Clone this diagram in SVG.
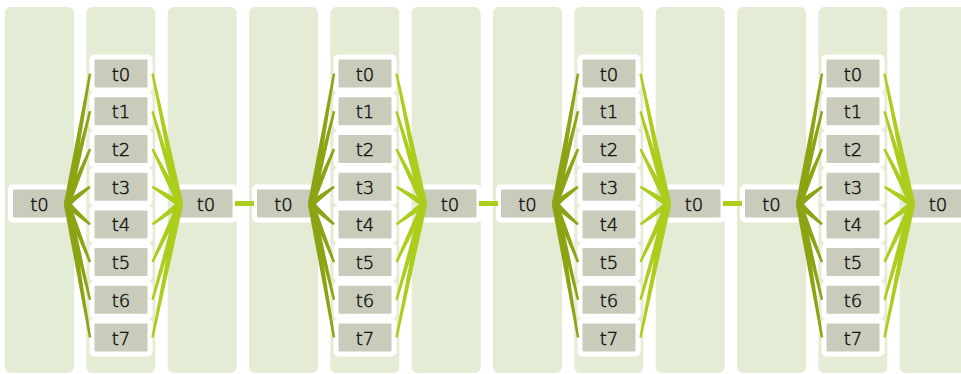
<svg xmlns="http://www.w3.org/2000/svg" xmlns:xlink="http://www.w3.org/1999/xlink" width="961" height="374" viewBox="0 0 961 374">
<style>
.col{fill:#e5ecd6}
.halo{fill:#ffffff}
.box{fill:#c9ccbb}
.lbl{font-family:"DejaVu Sans","Lato",sans-serif;font-weight:300;font-size:18px;fill:#111111;stroke:#111111;stroke-width:0.45;text-anchor:middle}
.fl{fill:#8ca414}
.fr{fill:#abcd1c}
.hl{stroke:#abcd1c;stroke-width:5;fill:none}
</style>
<defs>
<g id="node"><rect class="halo" x="-31.5" y="-19" width="63" height="38" rx="5"/><rect class="box" x="-26.5" y="-14" width="53" height="28" rx="1"/></g>
<g id="fanL">
<polygon class="fl" points="70.15,204.56 91.18,73.81 88.82,73.39 63.85,203.45"/>
<polygon class="fl" points="70.11,204.77 91.17,111.59 88.84,111.01 63.89,203.23"/>
<polygon class="fl" points="69.95,205.23 91.11,149.46 88.89,148.54 64.05,202.77"/>
<polygon class="fl" points="68.92,206.56 90.72,187.66 89.28,185.74 65.08,201.44"/>
<polygon class="fl" points="64.88,206.39 89.20,225.30 90.80,223.50 69.12,201.61"/>
<polygon class="fl" points="64.03,205.18 88.88,262.54 91.12,261.66 69.98,202.82"/>
<polygon class="fl" points="63.89,204.75 88.83,300.08 91.17,299.52 70.11,203.25"/>
<polygon class="fl" points="63.85,204.54 88.82,337.70 91.18,337.30 70.15,203.46"/>
</g>
<g id="fanR">
<polygon class="fr" points="176.87,204.66 151.33,73.85 153.67,73.35 183.13,203.34"/>
<polygon class="fr" points="176.93,204.91 151.35,111.64 153.65,110.96 183.07,203.09"/>
<polygon class="fr" points="177.14,205.43 151.43,149.54 153.57,148.46 182.86,202.57"/>
<polygon class="fr" points="178.30,206.71 151.86,187.72 153.14,185.68 181.70,201.29"/>
<polygon class="fr" points="181.91,206.57 153.22,225.36 151.79,223.44 178.09,201.43"/>
<polygon class="fr" points="182.89,205.37 153.59,262.61 151.42,261.59 177.11,202.63"/>
<polygon class="fr" points="183.08,204.88 153.65,300.13 151.35,299.47 176.93,203.12"/>
<polygon class="fr" points="183.13,204.65 153.68,337.74 151.33,337.26 176.87,203.35"/>
</g>
</defs>
<rect width="961" height="374" fill="#ffffff"/>
<g id="columns">
<rect class="col" x="5" y="7" width="69" height="366" rx="6"/>
<rect class="col" x="86.3" y="7" width="69" height="366" rx="6"/>
<rect class="col" x="167.7" y="7" width="69" height="366" rx="6"/>
<rect class="col" x="249" y="7" width="69" height="366" rx="6"/>
<rect class="col" x="330.3" y="7" width="69" height="366" rx="6"/>
<rect class="col" x="411.7" y="7" width="69" height="366" rx="6"/>
<rect class="col" x="493" y="7" width="69" height="366" rx="6"/>
<rect class="col" x="574.3" y="7" width="69" height="366" rx="6"/>
<rect class="col" x="655.7" y="7" width="69" height="366" rx="6"/>
<rect class="col" x="737" y="7" width="69" height="366" rx="6"/>
<rect class="col" x="818.3" y="7" width="69" height="366" rx="6"/>
<rect class="col" x="899.7" y="7" width="69" height="366" rx="6"/>
</g>
<g id="nodes">
<g id="a-in" transform="translate(39.5,203.5)"><use xlink:href="#node"/><text class="lbl" y="7">t0</text></g>
<g id="a-t0" transform="translate(121,73.6)"><use xlink:href="#node"/><text class="lbl" y="7">t0</text></g>
<g id="a-t1" transform="translate(121,111.3)"><use xlink:href="#node"/><text class="lbl" y="7">t1</text></g>
<g id="a-t2" transform="translate(121,149)"><use xlink:href="#node"/><text class="lbl" y="7">t2</text></g>
<g id="a-t3" transform="translate(121,186.7)"><use xlink:href="#node"/><text class="lbl" y="7">t3</text></g>
<g id="a-t4" transform="translate(121,224.4)"><use xlink:href="#node"/><text class="lbl" y="7">t4</text></g>
<g id="a-t5" transform="translate(121,262.1)"><use xlink:href="#node"/><text class="lbl" y="7">t5</text></g>
<g id="a-t6" transform="translate(121,299.8)"><use xlink:href="#node"/><text class="lbl" y="7">t6</text></g>
<g id="a-t7" transform="translate(121,337.5)"><use xlink:href="#node"/><text class="lbl" y="7">t7</text></g>
<g id="a-out" transform="translate(206,203.5)"><use xlink:href="#node"/><text class="lbl" y="7">t0</text></g>

<g id="b-in" transform="translate(283.5,203.5)"><use xlink:href="#node"/><text class="lbl" y="7">t0</text></g>
<g id="b-t0" transform="translate(365,73.6)"><use xlink:href="#node"/><text class="lbl" y="7">t0</text></g>
<g id="b-t1" transform="translate(365,111.3)"><use xlink:href="#node"/><text class="lbl" y="7">t1</text></g>
<g id="b-t2" transform="translate(365,149)"><use xlink:href="#node"/><text class="lbl" y="7">t2</text></g>
<g id="b-t3" transform="translate(365,186.7)"><use xlink:href="#node"/><text class="lbl" y="7">t3</text></g>
<g id="b-t4" transform="translate(365,224.4)"><use xlink:href="#node"/><text class="lbl" y="7">t4</text></g>
<g id="b-t5" transform="translate(365,262.1)"><use xlink:href="#node"/><text class="lbl" y="7">t5</text></g>
<g id="b-t6" transform="translate(365,299.8)"><use xlink:href="#node"/><text class="lbl" y="7">t6</text></g>
<g id="b-t7" transform="translate(365,337.5)"><use xlink:href="#node"/><text class="lbl" y="7">t7</text></g>
<g id="b-out" transform="translate(450,203.5)"><use xlink:href="#node"/><text class="lbl" y="7">t0</text></g>

<g id="c-in" transform="translate(527.5,203.5)"><use xlink:href="#node"/><text class="lbl" y="7">t0</text></g>
<g id="c-t0" transform="translate(609,73.6)"><use xlink:href="#node"/><text class="lbl" y="7">t0</text></g>
<g id="c-t1" transform="translate(609,111.3)"><use xlink:href="#node"/><text class="lbl" y="7">t1</text></g>
<g id="c-t2" transform="translate(609,149)"><use xlink:href="#node"/><text class="lbl" y="7">t2</text></g>
<g id="c-t3" transform="translate(609,186.7)"><use xlink:href="#node"/><text class="lbl" y="7">t3</text></g>
<g id="c-t4" transform="translate(609,224.4)"><use xlink:href="#node"/><text class="lbl" y="7">t4</text></g>
<g id="c-t5" transform="translate(609,262.1)"><use xlink:href="#node"/><text class="lbl" y="7">t5</text></g>
<g id="c-t6" transform="translate(609,299.8)"><use xlink:href="#node"/><text class="lbl" y="7">t6</text></g>
<g id="c-t7" transform="translate(609,337.5)"><use xlink:href="#node"/><text class="lbl" y="7">t7</text></g>
<g id="c-out" transform="translate(694,203.5)"><use xlink:href="#node"/><text class="lbl" y="7">t0</text></g>

<g id="d-in" transform="translate(771.5,203.5)"><use xlink:href="#node"/><text class="lbl" y="7">t0</text></g>
<g id="d-t0" transform="translate(853,73.6)"><use xlink:href="#node"/><text class="lbl" y="7">t0</text></g>
<g id="d-t1" transform="translate(853,111.3)"><use xlink:href="#node"/><text class="lbl" y="7">t1</text></g>
<g id="d-t2" transform="translate(853,149)"><use xlink:href="#node"/><text class="lbl" y="7">t2</text></g>
<g id="d-t3" transform="translate(853,186.7)"><use xlink:href="#node"/><text class="lbl" y="7">t3</text></g>
<g id="d-t4" transform="translate(853,224.4)"><use xlink:href="#node"/><text class="lbl" y="7">t4</text></g>
<g id="d-t5" transform="translate(853,262.1)"><use xlink:href="#node"/><text class="lbl" y="7">t5</text></g>
<g id="d-t6" transform="translate(853,299.8)"><use xlink:href="#node"/><text class="lbl" y="7">t6</text></g>
<g id="d-t7" transform="translate(853,337.5)"><use xlink:href="#node"/><text class="lbl" y="7">t7</text></g>
<g id="d-out" transform="translate(938,203.5)"><use xlink:href="#node"/><text class="lbl" y="7">t0</text></g>
</g>
<g id="connectors">
<use xlink:href="#fanL"/>
<use xlink:href="#fanR"/>
<use xlink:href="#fanL" x="244"/>
<use xlink:href="#fanR" x="244"/>
<use xlink:href="#fanL" x="488"/>
<use xlink:href="#fanR" x="488"/>
<use xlink:href="#fanL" x="732"/>
<use xlink:href="#fanR" x="732"/>
<line class="hl" x1="235" y1="203.5" x2="254" y2="203.5"/>
<line class="hl" x1="479" y1="203.5" x2="498" y2="203.5"/>
<line class="hl" x1="723" y1="203.5" x2="742" y2="203.5"/>
</g>
</svg>
